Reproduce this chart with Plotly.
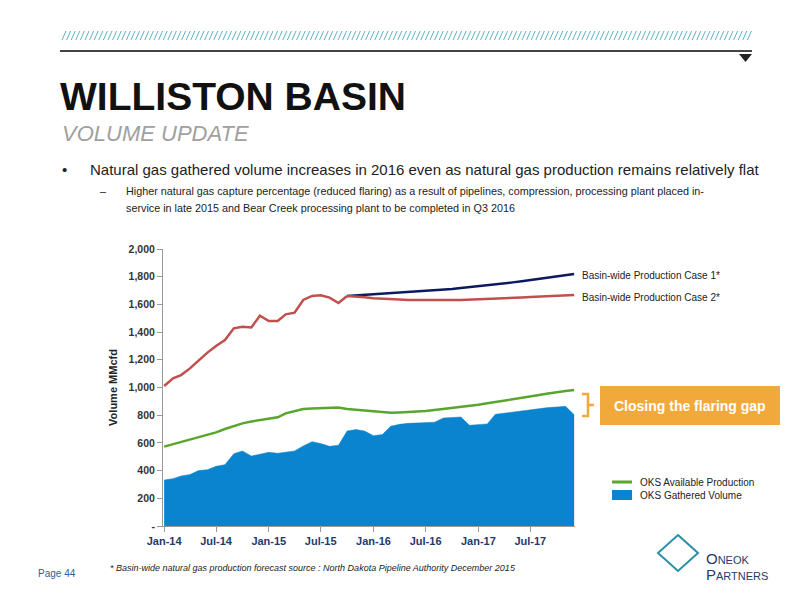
import plotly.graph_objects as go
import pandas as pd

months = pd.date_range("2014-01-01", "2017-12-01", freq="MS")
gathered = [332,342,361,371,400,407,431,443,522,542,505,517,532,525,534,542,578,609,595,575,583,686,696,686,
            652,660,720,734,741,744,746,749,780,785,787,727,734,737,806,814,823,833,842,850,855,859,864,804]
available = [573,590,606,621,640,657,676,700,722,741,755,765,775,785,813,830,845,848,850,852,855,845,838,832,
             828,823,818,820,823,826,830,838,845,852,860,866,876,886,896,907,917,927,936,946,956,968,975,982]
hist = [1011,1066,1090,1138,1194,1252,1300,1343,1427,1439,1434,1518,1480,1480,1528,1540,1632,1661,1666,1649,1610,1661]
case1 = [1661,1665,1669,1673,1677,1681,1685,1689,1693,1697,1702,1707,1712,1718,1724,1730,1737,1744,1751,1759,1767,1775,1784,1793,1802,1811,1820]
case2 = [1661,1658,1652,1645,1640,1637,1635,1632,1631,1630,1630,1630,1631,1632,1634,1635,1637,1640,1643,1646,1650,1653,1656,1659,1662,1666,1668]

N = "Liberation Sans"
OX, OY = 8, 8
def px(x): return (x - OX) / 800
def py(y): return 1 - (y - OY) / 600

fig = go.Figure()
fig.add_trace(go.Scatter(x=months, y=gathered, fill="tozeroy", mode="lines", line=dict(color="#0A84CE", width=0.5),
                         fillcolor="#0A84CE", name="OKS Gathered Volume"))
fig.add_trace(go.Scatter(x=months, y=available, mode="lines", line=dict(color="#5AA52C", width=2.5), name="OKS Available Production"))
fig.add_trace(go.Scatter(x=months[21:], y=case1[:len(months[21:])], mode="lines", line=dict(color="#0B1A5E", width=2.5)))
fig.add_trace(go.Scatter(x=months[21:], y=case2[:len(months[21:])], mode="lines", line=dict(color="#C0504D", width=2.5)))
fig.add_trace(go.Scatter(x=months[:22], y=hist, mode="lines", line=dict(color="#C0504D", width=2.5)))

tickvals = pd.date_range("2014-01-01", "2017-07-01", freq="6MS")
fig.update_layout(
    width=800, height=600, showlegend=False, plot_bgcolor="white", paper_bgcolor="white",
    margin=dict(l=0, r=0, t=0, b=0, autoexpand=False), font=dict(family=N, color="#222"),
    xaxis=dict(domain=[px(163), px(575)], range=["2013-12-28", "2017-12-04"], tickvals=tickvals,
               ticktext=[f"<b>{d:%b-%y}</b>" for d in tickvals],
               showgrid=False, showline=True, linecolor="#999", ticks="outside", ticklen=5, tickcolor="#999",
               automargin=False, tickfont=dict(size=11, color="#1F3A6E", family=N)),
    yaxis=dict(domain=[py(526), py(249)], range=[0, 2000], tickvals=list(range(0, 2001, 200)),
               ticktext=["<b>-</b>"] + [f"<b>{v:,}</b>" for v in range(200, 2001, 200)], showgrid=False, showline=True,
               linecolor="#999", ticks="outside", ticklen=5, tickcolor="#999", automargin=False,
               tickfont=dict(size=10.5, color="#333", family=N),
               title=dict(text="<b>Volume MMcfd</b>", font=dict(size=11, family=N), standoff=8)),
)

shapes = []
x = 62
while x < 752:
    shapes.append(dict(type="line", xref="paper", yref="paper", x0=px(x), x1=px(x + 4), y0=py(40), y1=py(31),
                       line=dict(color="#5FB3C4", width=1)))
    x += 4.6
shapes.append(dict(type="line", xref="paper", yref="paper", x0=px(60), x1=px(752), y0=py(51), y1=py(51), line=dict(color="#444", width=2)))
shapes.append(dict(type="path", xref="paper", yref="paper",
                   path=f"M {px(739)} {py(54)} L {px(752)} {py(54)} L {px(745.5)} {py(62)} Z", fillcolor="#222", line=dict(width=0)))
shapes.append(dict(type="rect", xref="paper", yref="paper", x0=px(600), x1=px(780), y0=py(425), y1=py(386),
                   fillcolor="#F2A93B", line=dict(width=0)))
shapes.append(dict(type="path", xref="paper", yref="paper",
                   path=f"M {px(582)} {py(394)} L {px(588)} {py(394)} L {px(588)} {py(405)} L {px(594)} {py(405)} L {px(588)} {py(405)} L {px(588)} {py(416)} L {px(582)} {py(416)}",
                   line=dict(color="#F2A93B", width=2.5)))
shapes.append(dict(type="line", xref="paper", yref="paper", x0=px(612), x1=px(632), y0=py(482), y1=py(482), line=dict(color="#5AA52C", width=3)))
shapes.append(dict(type="rect", xref="paper", yref="paper", x0=px(612), x1=px(632), y0=py(500), y1=py(490), fillcolor="#0A84CE", line=dict(width=0)))
shapes.append(dict(type="path", xref="paper", yref="paper",
                   path=f"M {px(678)} {py(535)} L {px(698)} {py(553)} L {px(678)} {py(571)} L {px(658)} {py(553)} Z",
                   line=dict(color="#2A8FA8", width=2)))
fig.update_layout(shapes=shapes)

def ann(text, x, y, size, color="#222", xanchor="left", **kw):
    fig.add_annotation(text=text, x=px(x), y=py(y), xref="paper", yref="paper", showarrow=False,
                       xanchor=xanchor, yanchor="middle", font=dict(size=size, color=color, family=N), **kw)

ann("<b>WILLISTON BASIN</b>", 58, 97, 39, "#111")
ann("<i>VOLUME UPDATE</i>", 60, 134, 22, "#A0A0A0")
ann("•", 60, 169, 15, "#222")
ann("Natural gas gathered volume increases in 2016 even as natural gas production remains relatively flat", 88, 169, 15, "#222")
ann("–", 98, 191, 11)
ann("Higher natural gas capture percentage (reduced flaring) as a result of pipelines, compression, processing plant placed in-", 124, 191, 10.8)
ann("service in late 2015 and Bear Creek processing plant to be completed in Q3 2016", 124, 208, 10.8)
ann("Basin-wide Production Case 1*", 580, 275, 10)
ann("Basin-wide Production Case 2*", 580, 297, 10)
ann("<b>Closing the flaring gap</b>", 690, 406, 14, "white", xanchor="center")
ann("OKS Available Production", 638, 482, 10)
ann("OKS Gathered Volume", 638, 495, 10)
ann("<i>* Basin-wide natural gas production forecast source : North Dakota Pipeline Authority December 2015</i>", 108, 568, 9)
ann("Page 44", 36, 573, 10, "#1F5FA8")
ann("O<span style='font-size:11px'>NEOK</span>", 704, 558, 15, "#1F3A6E")
ann("P<span style='font-size:11px'>ARTNERS</span>", 704, 574, 15, "#1F3A6E")
fig.write_html("out.html")
